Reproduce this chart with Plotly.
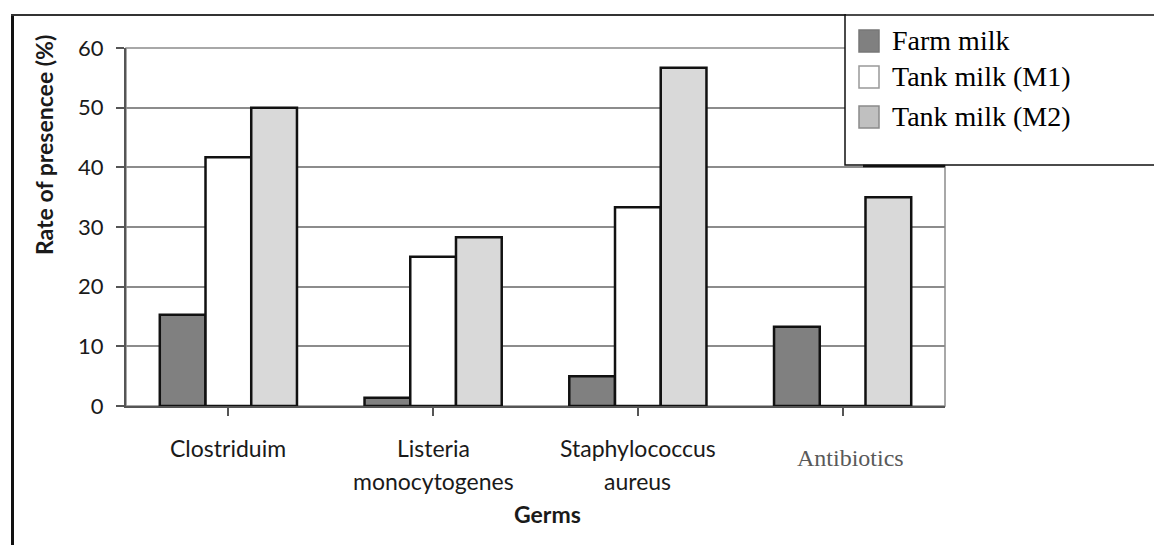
import plotly.graph_objects as go

# Germs / residues screened in the milk samples
categories = ["Clostriduim", "Listeria\nmonocytogenes", "Staphylococcus\naureus", "Antibiotics"]

# Rate of presence (%) per sample type
series_names = ["Farm milk", "Tank milk (M1)", "Tank milk (M2)"]
farm_milk = [15.3, 1.4, 5.0, 13.3]
tank_m1 = [41.7, 25.0, 33.3, 0.0]
tank_m2 = [50.0, 28.3, 56.7, 35.0]

y_ticks = [0, 10, 20, 30, 40, 50, 60]

W, H = 1154, 545
L, R, T, B = 126, 209, 48, 139
PW, PH = W - L - R, H - T - B


def px(x):
    return (x - L) / PW


def py(y):
    return (H - B - y) / PH


fills = ["#808080", "#ffffff", "#d9d9d9"]
keys = list(range(len(categories)))

fig = go.Figure()
for name, vals, col in zip(series_names, [farm_milk, tank_m1, tank_m2], fills):
    fig.add_trace(go.Bar(
        x=keys, y=vals, name=name,
        marker=dict(color=col, line=dict(color="#111111", width=2.5)),
        showlegend=False,
    ))

sans = "Lato, 'Open Sans', sans-serif"
serif = "'Liberation Serif', 'DejaVu Serif', serif"
ink = "#1a1a1a"

annotations = []
# category labels under the axis
for i, cat in enumerate(categories):
    lines = cat.split("\n")
    if cat == "Antibiotics":
        annotations.append(dict(
            x=i, y=py(458), xref="x", yref="paper", text=cat, showarrow=False,
            xshift=8, font=dict(family=serif, size=24, color="#595959"),
            xanchor="center", yanchor="middle"))
        continue
    for j, ln in enumerate(lines):
        annotations.append(dict(
            x=i, y=py(448 + 33 * j), xref="x", yref="paper", text=ln, showarrow=False,
            font=dict(family=sans, size=23, color=ink),
            xanchor="center", yanchor="middle"))

# axis titles
annotations.append(dict(
    x=px(547), y=py(514), xref="paper", yref="paper", text="<b>Germs</b>",
    showarrow=False, font=dict(family=sans, size=23, color=ink),
    xanchor="center", yanchor="middle"))
annotations.append(dict(
    x=px(44), y=py(145), xref="paper", yref="paper", text="<b>Rate of presencee (%)</b>",
    showarrow=False, textangle=-90, font=dict(family=sans, size=23, color=ink),
    xanchor="center", yanchor="middle"))

shapes = []
# outer frame (left and top edges)
shapes.append(dict(type="line", xref="paper", yref="paper",
                   x0=px(12.5), x1=px(12.5), y0=py(14), y1=py(H + 5),
                   line=dict(color="#111111", width=3)))
shapes.append(dict(type="line", xref="paper", yref="paper",
                   x0=px(11), x1=px(846), y0=py(15), y1=py(15),
                   line=dict(color="#333333", width=2)))
# plot area border
shapes.append(dict(type="rect", xref="paper", yref="paper", layer="below",
                   x0=0, x1=1, y0=0, y1=1, line=dict(color="#8c8c8c", width=1.5)))

# legend box
shapes.append(dict(type="rect", xref="paper", yref="paper", layer="above",
                   x0=px(845), x1=px(W + 10), y0=py(165), y1=py(15),
                   fillcolor="#ffffff", line=dict(color="#111111", width=1.5)))
shapes.append(dict(type="line", xref="paper", yref="paper", layer="above",
                   x0=px(863), x1=px(945), y0=py(166), y1=py(166),
                   line=dict(color="#111111", width=2.5)))
sw_cy = [41, 77, 117]
sw_edge = ["#777777", "#999999", "#8a8a8a"]
sw_fill = ["#808080", "#ffffff", "#c0c0c0"]
for name, cy, fc, ec in zip(series_names, sw_cy, sw_fill, sw_edge):
    shapes.append(dict(type="rect", xref="paper", yref="paper", layer="above",
                       x0=px(859), x1=px(879), y0=py(cy + 11), y1=py(cy - 11),
                       fillcolor=fc, line=dict(color=ec, width=1.5)))
    annotations.append(dict(
        x=px(890), y=py(cy - 1), xref="paper", yref="paper", text=name,
        showarrow=False, font=dict(family=serif, size=28, color="#000000"),
        xanchor="left", yanchor="middle"))

fig.update_layout(
    width=W, height=H,
    margin=dict(l=L, r=R, t=T, b=B, pad=0),
    paper_bgcolor="#ffffff", plot_bgcolor="#ffffff",
    barmode="group", bargap=0.33, bargroupgap=0,
    annotations=annotations, shapes=shapes,
    xaxis=dict(range=[-0.5, 3.5], tickvals=keys, showticklabels=False,
               tickson="boundaries", ticks="outside", ticklen=8, tickwidth=1.5,
               tickcolor="#555555", showline=True, linecolor="#555555", linewidth=2,
               showgrid=False, zeroline=False, fixedrange=True),
    yaxis=dict(range=[0, 60], tickvals=y_ticks, ticks="outside", ticklen=8,
               tickwidth=1.5, tickcolor="#555555", showline=True, linecolor="#555555",
               linewidth=2, showgrid=True, gridcolor="#8c8c8c", gridwidth=1.5,
               zeroline=False, tickfont=dict(family=sans, size=22, color=ink),
               ticklabelstandoff=8, fixedrange=True),
    showlegend=False,
)

fig.write_html("out.html")
